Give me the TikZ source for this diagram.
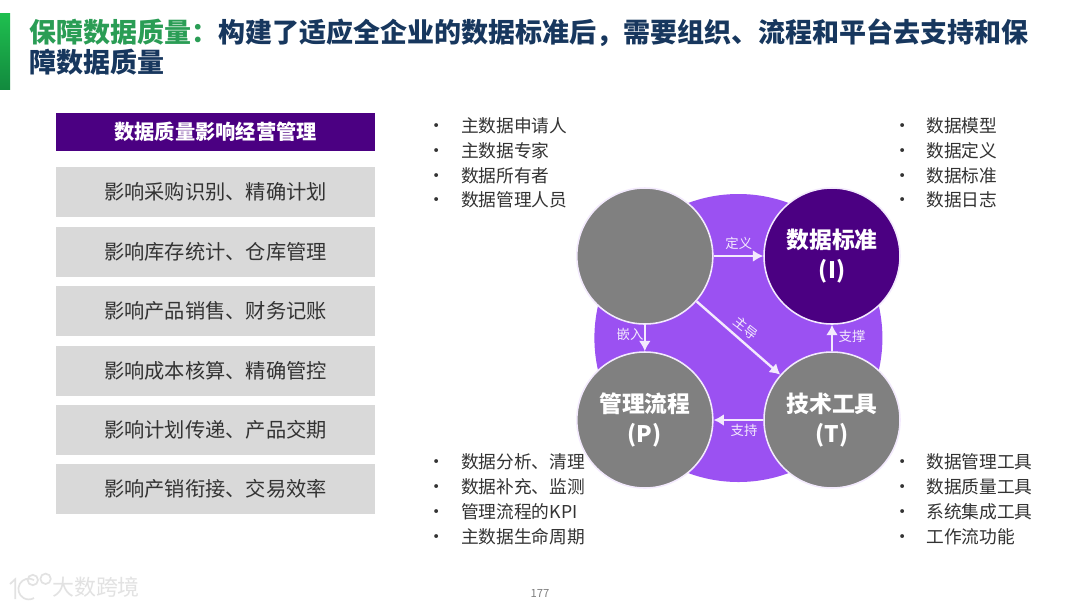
\documentclass[tikz,border=0pt]{standalone}
\usepackage{fontspec}
\setmainfont{Noto Sans CJK SC}
\usetikzlibrary{positioning,arrows.meta}
\definecolor{deeppurple}{HTML}{4B0082}
\definecolor{ringpurple}{HTML}{9B51F2}
\definecolor{circgray}{HTML}{808080}
\definecolor{boxgray}{HTML}{D9D9D9}
\definecolor{titlegreen}{HTML}{2A9D55}
\definecolor{titlenavy}{HTML}{17375E}
\definecolor{wmgray}{HTML}{E2E2E2}
\definecolor{arrowwhite}{HTML}{F3EAFD}
\definecolor{bartop}{HTML}{1FBF4F}
\definecolor{barbottom}{HTML}{128A3E}
\tikzset{
  effectbox/.style={fill=boxgray,minimum width=7.98cm,minimum height=1.25cm,inner sep=0pt,font=\fontsize{14.4}{16}\selectfont,text=black!80},
  circbox/.style={circle,draw=arrowwhite,line width=1.1pt,minimum size=3.4cm,inner sep=0pt,align=center,text=white,font=\fontsize{16.2}{21}\selectfont\bfseries},
  rowtext/.style={anchor=west,inner sep=0pt,font=\fontsize{12.6}{15}\selectfont,text=black!80,label={[inner sep=0pt,xshift=-.36cm,yshift=-1.5pt,text=black!80,font=\fontsize{13}{15}\selectfont]left:•}},
  linkarrow/.style={-{Latex[length=2.6mm,width=3mm]},draw=arrowwhite,line width=1.7pt},
  linklabel/.style={inner sep=0pt,text=arrowwhite,font=\fontsize{9.5}{11}\selectfont}
}
\begin{document}
\begin{tikzpicture}
\useasboundingbox[fill=white] (0,0) rectangle (27,-15.2);
% title
\shade[top color=bartop,bottom color=barbottom] (0,-.33) rectangle (.25,-2.23);
\node (title) at (.74,-1.18) [anchor=west,inner sep=0pt,align=left,text=titlenavy,font=\fontsize{19.2}{21.4}\selectfont\bfseries] {{\color{titlegreen}保障数据质量^^^^ff1a}构建了适应全企业的数据标准后^^^^ff0c需要组织、流程和平台去支持和保\\障数据质量};
% left column
\node (head) at (5.39,-3.3) [fill=deeppurple,minimum width=7.98cm,minimum height=.95cm,inner sep=0pt,text=white,font=\fontsize{14.4}{18}\selectfont\bfseries] {数据质量影响经营管理};
\node[effectbox] (box1) at (5.39,-4.8) {影响采购识别、精确计划};
\node[effectbox] (box2) at (5.39,-6.3) {影响库存统计、仓库管理};
\node[effectbox] (box3) at (5.39,-7.78) {影响产品销售、财务记账};
\node[effectbox] (box4) at (5.39,-9.27) {影响成本核算、精确管控};
\node[effectbox] (box5) at (5.39,-10.75) {影响计划传递、产品交期};
\node[effectbox] (box6) at (5.39,-12.23) {影响产销衔接、交易效率};
% wheel
\fill[ringpurple] (18.46,-8.45) circle (3.6);
\node[circbox,fill=circgray] (people) at (16.12,-6.4) {};
\node[circbox,fill=deeppurple] (standard) at (20.8,-6.4) {数据标准\\(I)};
\node[circbox,fill=circgray] (process) at (16.12,-10.5) {管理流程\\(P)};
\node[circbox,fill=circgray] (tools) at (20.8,-10.5) {技术工具\\(T)};
\draw[linkarrow] (people) -- (standard);
\draw[linkarrow] (people) -- (process);
\draw[linkarrow] (people) -- (tools);
\draw[linkarrow] (tools) -- (standard);
\draw[linkarrow] (tools) -- (process);
\node[linklabel] (define) at (18.47,-6.08) {定义};
\node[linklabel] (embed) at (15.75,-8.35) {嵌入};
\node[linklabel,rotate=-38] (lead) at (18.65,-8.2) {主导};
\node[linklabel] (prop) at (21.3,-8.42) {支撑};
\node[linklabel] (support) at (18.6,-10.75) {支持};
% lists
\node[rowtext] (a1) at (11.52,-3.15) {主数据申请人};
\node[rowtext] (a2) at (11.52,-3.77) {主数据专家};
\node[rowtext] (a3) at (11.52,-4.39) {数据所有者};
\node[rowtext] (a4) at (11.52,-5) {数据管理人员};
\node[rowtext] (b1) at (23.15,-3.15) {数据模型};
\node[rowtext] (b2) at (23.15,-3.77) {数据定义};
\node[rowtext] (b3) at (23.15,-4.39) {数据标准};
\node[rowtext] (b4) at (23.15,-5) {数据日志};
\node[rowtext] (c1) at (11.52,-11.55) {数据分析、清理};
\node[rowtext] (c2) at (11.52,-12.17) {数据补充、监测};
\node[rowtext] (c3) at (11.52,-12.79) {管理流程的KPI};
\node[rowtext] (c4) at (11.52,-13.42) {主数据生命周期};
\node[rowtext] (d1) at (23.15,-11.55) {数据管理工具};
\node[rowtext] (d2) at (23.15,-12.17) {数据质量工具};
\node[rowtext] (d3) at (23.15,-12.79) {系统集成工具};
\node[rowtext] (d4) at (23.15,-13.42) {工作流功能};
% footer
\node (page) at (13.5,-14.83) [inner sep=0pt,text=black!50,font=\fontsize{8}{10}\selectfont] {177};
\node (mark) at (2.4,-14.68) [inner sep=0pt,text=wmgray,font=\fontsize{15.6}{18}\selectfont] {大数跨境};
\draw[wmgray,line width=1.2pt] (.25,-14.6) -- (.38,-14.48) -- (.38,-14.98) (.85,-14.5) arc (60:300:.26) (.82,-14.5) circle (.13) (1.14,-14.47) circle (.13);
\end{tikzpicture}
\end{document}
